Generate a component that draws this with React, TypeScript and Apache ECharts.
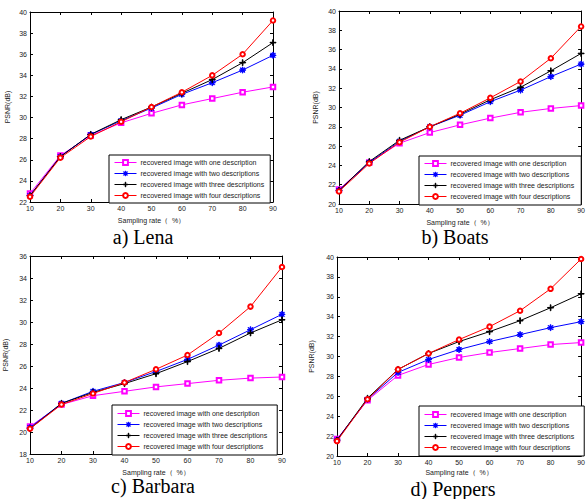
import React, { useEffect, useRef } from "react";
import * as echarts from "echarts";

const samplingRates = [10, 20, 30, 40, 50, 60, 70, 80, 90];
const seriesNames = [
  "recovered image with one description",
  "recovered image with two descriptions",
  "recovered image with three descriptions",
  "recovered image with four descriptions",
];

const lenaOne = [22.8, 26.4, 28.3, 29.5, 30.4, 31.2, 31.8, 32.4, 32.9];
const lenaTwo = [22.6, 26.3, 28.4, 29.7, 30.9, 32.2, 33.3, 34.5, 35.9];
const lenaThree = [22.6, 26.3, 28.4, 29.8, 31.0, 32.3, 33.6, 35.2, 37.1];
const lenaFour = [22.5, 26.2, 28.2, 29.6, 31.0, 32.4, 34.0, 36.0, 39.2];

const boatsOne = [21.5, 24.3, 26.3, 27.4, 28.2, 28.9, 29.5, 29.9, 30.2];
const boatsTwo = [21.4, 24.3, 26.5, 28.0, 29.2, 30.6, 31.8, 33.2, 34.5];
const boatsThree = [21.4, 24.4, 26.6, 28.0, 29.3, 30.8, 32.1, 33.8, 35.6];
const boatsFour = [21.3, 24.2, 26.4, 28.0, 29.4, 31.0, 32.7, 35.1, 38.4];

const barbaraOne = [20.5, 22.5, 23.3, 23.7, 24.1, 24.4, 24.7, 24.9, 25.0];
const barbaraTwo = [20.4, 22.6, 23.7, 24.5, 25.5, 26.6, 27.9, 29.3, 30.7];
const barbaraThree = [20.3, 22.6, 23.6, 24.4, 25.3, 26.4, 27.6, 29.0, 30.2];
const barbaraFour = [20.3, 22.5, 23.5, 24.5, 25.7, 27.0, 29.0, 31.4, 35.0];

const peppersOne = [21.7, 25.6, 28.1, 29.2, 29.9, 30.4, 30.8, 31.2, 31.4];
const peppersTwo = [21.6, 25.7, 28.4, 29.7, 30.7, 31.5, 32.2, 32.9, 33.5];
const peppersThree = [21.6, 25.8, 28.7, 30.3, 31.5, 32.5, 33.6, 34.9, 36.3];
const peppersFour = [21.5, 25.7, 28.7, 30.3, 31.7, 33.0, 34.6, 36.8, 39.8];

const panelTitles = ["a) Lena", "b) Boats", "c) Barbara", "d) Peppers"];
const yRanges = [
  [22, 40],
  [20, 40],
  [18, 36],
  [20, 40],
];
const xAxisName = "Sampling rate（  %）";
const yAxisName = "PSNR(dB)";

const panelData = [
  [lenaOne, lenaTwo, lenaThree, lenaFour],
  [boatsOne, boatsTwo, boatsThree, boatsFour],
  [barbaraOne, barbaraTwo, barbaraThree, barbaraFour],
  [peppersOne, peppersTwo, peppersThree, peppersFour],
];

const ASTERISK =
  "path://M4.5,0H5.5V10H4.5Z M0,4.5H10V5.5H0Z M1.7,1L9,8.3L8.3,9L1,1.7Z M8.3,1L9,1.7L1.7,9L1,8.3Z";
const PLUS = "path://M4.5,0H5.5V10H4.5Z M0,4.5H10V5.5H0Z";

const styles = [
  { color: "#ff00ff", symbol: "emptyRect", size: 4.5 },
  { color: "#0000ff", symbol: ASTERISK, size: 6 },
  { color: "#000000", symbol: PLUS, size: 6 },
  { color: "#ff0000", symbol: "emptyCircle", size: 4.5 },
];

const grids = [
  { left: 30, top: 12, width: 243, height: 190 },
  { left: 339, top: 11, width: 246, height: 193 },
  { left: 30, top: 256, width: 252, height: 198 },
  { left: 337, top: 257, width: 250, height: 199 },
];
const xNameGaps = [15, 15, 15, 13];
const yNameGaps = [19, 20, 21, 22];
const legendPos = [
  { left: 109, top: 155, padding: [4, 6, 4, 5] },
  { left: 419, top: 156, padding: [4, 7, 5, 5] },
  { left: 112, top: 405, padding: [5, 10, 5, 5] },
  { left: 419, top: 406, padding: [5, 10, 5, 5] },
];
const captionPos = [
  [143, 237],
  [455, 237],
  [153, 486],
  [453, 489],
];

const FONT = "'Liberation Sans', Arial, sans-serif";

export default function App() {
  const ref = useRef<HTMLDivElement>(null);
  useEffect(() => {
    if (!ref.current) return;
    const chart = echarts.init(ref.current, null, { renderer: "svg" });
    const xAxes: any[] = [];
    const yAxes: any[] = [];
    const series: any[] = [];
    const legends: any[] = [];
    const graphics: any[] = [];
    const axisLine = { show: true, lineStyle: { color: "#000", width: 1 } };
    const axisTick = { show: true, inside: true, length: 3, lineStyle: { color: "#000", width: 1 } };
    for (let p = 0; p < 4; p++) {
      xAxes.push({
        type: "value",
        gridIndex: p,
        min: 10,
        max: 90,
        interval: 10,
        position: "bottom",
        name: xAxisName,
        nameLocation: "middle",
        nameGap: xNameGaps[p],
        nameTextStyle: { fontSize: 7, color: "#222", fontFamily: FONT },
        axisLine,
        axisTick,
        splitLine: { show: false },
        axisLabel: { fontSize: 7, color: "#222", margin: 3, fontFamily: FONT },
      });
      xAxes.push({
        type: "value",
        gridIndex: p,
        min: 10,
        max: 90,
        interval: 10,
        position: "top",
        axisLine,
        axisTick,
        splitLine: { show: false },
        axisLabel: { show: false },
      });
      yAxes.push({
        type: "value",
        gridIndex: p,
        min: yRanges[p][0],
        max: yRanges[p][1],
        interval: 2,
        position: "left",
        name: yAxisName,
        nameLocation: "middle",
        nameGap: yNameGaps[p],
        nameTextStyle: { fontSize: 7, color: "#222", fontFamily: FONT },
        axisLine,
        axisTick,
        splitLine: { show: false },
        axisLabel: { fontSize: 7, color: "#222", margin: 3, fontFamily: FONT },
      });
      yAxes.push({
        type: "value",
        gridIndex: p,
        min: yRanges[p][0],
        max: yRanges[p][1],
        interval: 2,
        position: "right",
        axisLine,
        axisTick,
        splitLine: { show: false },
        axisLabel: { show: false },
      });
      for (let s = 0; s < 4; s++) {
        const st = styles[s];
        series.push({
          type: "line",
          name: seriesNames[s],
          xAxisIndex: p * 2,
          yAxisIndex: p * 2,
          data: samplingRates.map((x, i) => [x, panelData[p][s][i]]),
          symbol: st.symbol,
          symbolSize: st.size,
          showAllSymbol: true,
          lineStyle: { color: st.color, width: 1 },
          itemStyle: { color: st.color, borderColor: st.color, borderWidth: 1 },
          z: 2 + s,
        });
      }
      legends.push({
        orient: "vertical",
        left: legendPos[p].left,
        top: legendPos[p].top,
        padding: legendPos[p].padding,
        itemWidth: 22,
        itemHeight: 6,
        itemGap: 4,
        data: seriesNames,
        borderColor: "#000",
        borderWidth: 1,
        backgroundColor: "#fff",
        selectedMode: false,
        lineStyle: { width: 1 },
        itemStyle: { borderWidth: 1 },
        textStyle: { fontSize: 7, color: "#222", fontFamily: FONT, padding: [0, 0, 0, -1] },
        z: 10,
      });
      graphics.push({
        type: "text",
        x: captionPos[p][0],
        y: captionPos[p][1],
        style: {
          text: panelTitles[p],
          fontSize: 20,
          fontFamily: "'Liberation Serif', 'Times New Roman', serif",
          fill: "#000",
          textAlign: "center",
          textVerticalAlign: "middle",
        },
      });
    }
    chart.setOption({
      animation: false,
      backgroundColor: "#fff",
      grid: grids,
      xAxis: xAxes,
      yAxis: yAxes,
      series,
      legend: legends,
      graphic: graphics,
    });
    return () => chart.dispose();
  }, []);
  return (
    <div
      ref={ref}
      style={{ position: "fixed", left: 0, top: 0, width: 588, height: 499 }}
    />
  );
}
